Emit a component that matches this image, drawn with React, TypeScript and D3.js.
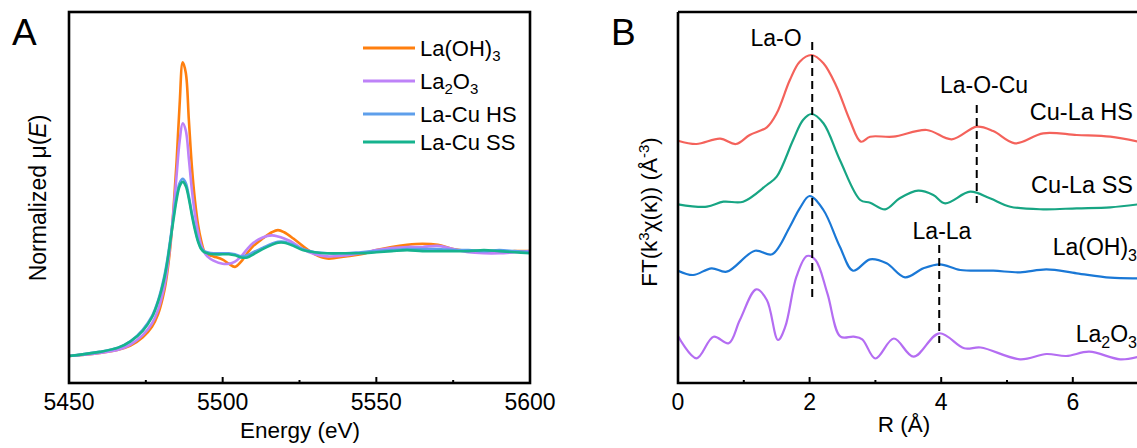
import React from "react";
import * as d3 from "d3";

// ---------- Panel A: XANES (normalized mu(E)) ----------
const energy = [5450, 5460, 5466, 5470, 5474, 5477, 5479, 5481, 5482, 5483, 5484, 5485, 5486, 5487, 5488, 5489, 5490, 5491, 5492, 5493, 5494, 5495, 5497, 5500, 5502, 5504, 5506, 5508, 5510, 5513, 5516, 5518, 5520, 5523, 5526, 5530, 5534, 5540, 5545, 5550, 5555, 5560, 5565, 5570, 5575, 5580, 5585, 5590, 5595, 5600];
const muLaOH3 = [0.00, 0.03, 0.06, 0.10, 0.18, 0.28, 0.40, 0.62, 0.80, 1.05, 1.40, 1.85, 2.40, 2.80, 2.70, 2.25, 1.80, 1.48, 1.25, 1.10, 1.00, 0.97, 0.95, 0.92, 0.88, 0.85, 0.90, 0.98, 1.05, 1.12, 1.18, 1.20, 1.18, 1.12, 1.05, 0.97, 0.93, 0.95, 0.97, 1.01, 1.04, 1.06, 1.07, 1.06, 1.02, 1.00, 0.99, 0.99, 1.00, 1.00];
const muLa2O3 = [0.00, 0.03, 0.06, 0.11, 0.20, 0.31, 0.44, 0.66, 0.84, 1.08, 1.38, 1.72, 2.05, 2.22, 2.15, 1.88, 1.58, 1.35, 1.18, 1.06, 0.99, 0.95, 0.91, 0.88, 0.88, 0.90, 0.95, 1.02, 1.08, 1.13, 1.15, 1.14, 1.12, 1.08, 1.02, 0.97, 0.95, 0.96, 0.98, 1.01, 1.03, 1.04, 1.04, 1.05, 1.02, 0.99, 0.98, 0.98, 0.99, 1.00];
const muLaCuHS = [0.00, 0.04, 0.08, 0.14, 0.25, 0.38, 0.53, 0.76, 0.92, 1.12, 1.33, 1.52, 1.65, 1.69, 1.65, 1.52, 1.36, 1.22, 1.10, 1.03, 1.00, 0.99, 0.98, 0.98, 0.98, 0.97, 0.95, 0.96, 0.99, 1.03, 1.07, 1.09, 1.09, 1.06, 1.02, 0.99, 0.98, 0.98, 0.99, 1.00, 1.01, 1.02, 1.02, 1.02, 1.01, 1.01, 1.00, 1.01, 1.00, 0.99];
const muLaCuSS = [0.00, 0.04, 0.08, 0.14, 0.24, 0.37, 0.52, 0.74, 0.90, 1.10, 1.30, 1.49, 1.62, 1.66, 1.62, 1.50, 1.34, 1.20, 1.09, 1.02, 0.99, 0.98, 0.97, 0.97, 0.97, 0.96, 0.94, 0.94, 0.97, 1.02, 1.06, 1.08, 1.08, 1.05, 1.01, 0.99, 0.98, 0.98, 0.98, 0.99, 1.00, 1.01, 1.00, 1.00, 1.00, 1.00, 1.01, 1.00, 0.99, 0.98];
const seriesA = [
  { name: "La(OH)3", values: muLaOH3, color: "#FF7F0E" },
  { name: "La2O3", values: muLa2O3, color: "#BE82F8" },
  { name: "La-Cu HS", values: muLaCuHS, color: "#5E9FEB" },
  { name: "La-Cu SS", values: muLaCuSS, color: "#16B38E" },
];
const ticksA = [5450, 5500, 5550, 5600];
const minorTicksA = [5475, 5525, 5575];

// ---------- Panel B: FT-EXAFS (stacked, arbitrary units) ----------
const rHS = [0, 0.28, 0.64, 0.88, 1.09, 1.35, 1.50, 1.70, 1.85, 2.03, 2.21, 2.41, 2.61, 2.78, 2.92, 3.27, 3.78, 4.16, 4.54, 4.79, 5.12, 5.55, 6.06, 6.57, 7.0];
const ftHS = [242.3, 239, 244.3, 239, 248, 255.7, 269.7, 303, 321.3, 328, 319.7, 296.3, 263, 241.3, 246.3, 246.3, 253, 243.7, 256.3, 252, 239.7, 249.7, 248, 246.3, 241.3];
const rSS = [0, 0.44, 0.69, 0.99, 1.35, 1.50, 1.75, 1.90, 2.03, 2.21, 2.46, 2.77, 2.92, 3.15, 3.37, 3.65, 3.88, 4.06, 4.44, 4.74, 5.05, 5.55, 6.06, 6.57, 7.0];
const ftSS = [178.7, 176.3, 181.3, 181.3, 198, 206.3, 243, 263, 269, 259.7, 223, 183, 180.3, 173.7, 184.7, 192.3, 188, 179.7, 191.3, 184.7, 176.3, 173.7, 174.7, 175.7, 178.7];
const rLaOH = [0, 0.23, 0.51, 0.74, 1.17, 1.43, 1.70, 1.85, 2.0, 2.21, 2.46, 2.66, 2.92, 3.17, 3.45, 3.73, 3.98, 4.29, 4.79, 5.20, 5.60, 6.06, 6.57, 7.0];
const ftLaOH = [112.3, 108, 114.7, 111.3, 132.3, 128.7, 156.3, 174.7, 187, 173, 136.3, 112.3, 123.7, 119.7, 105.7, 114.7, 118.7, 113, 112.3, 110.7, 113.7, 109.7, 105.3, 104.7];
const rLa2O3 = [0, 0.28, 0.54, 0.77, 0.94, 1.19, 1.35, 1.52, 1.63, 1.80, 1.96, 2.09, 2.27, 2.47, 2.67, 2.80, 3.0, 3.28, 3.58, 3.97, 4.35, 4.60, 5.20, 5.60, 5.90, 6.25, 6.72, 7.0];
const ftLa2O3 = [47, 24.7, 46.3, 39.7, 63, 93.7, 83, 43, 56.3, 106.3, 127, 123, 89.7, 46.3, 46.3, 43.7, 24.5, 44.5, 26.3, 49.7, 34.7, 35.5, 23.7, 29, 27, 31.3, 23.7, 26.3];
const seriesB = [
  { name: "Cu-La HS", r: rHS, values: ftHS, color: "#F4625B" },
  { name: "Cu-La SS", r: rSS, values: ftSS, color: "#17A583" },
  { name: "La(OH)3", r: rLaOH, values: ftLaOH, color: "#1A78D6" },
  { name: "La2O3", r: rLa2O3, values: ftLa2O3, color: "#B46DF2" },
];
const ticksB = [0, 2, 4, 6];
const minorTicksB = [1, 3, 5];
const dashLines = [
  { r: 2.04, top: 341, bottom: 83, label: "La-O" },
  { r: 4.54, top: 278, bottom: 180, label: "La-O-Cu" },
  { r: 3.97, top: 138, bottom: 40, label: "La-La" },
];

const FONT = "'Liberation Sans', Arial, Helvetica, sans-serif";

export default function App() {
  // Panel A scales
  const ax = d3.scaleLinear().domain([5450, 5600]).range([69, 530]);
  const ay = d3.scaleLinear().domain([-0.257, 3.28]).range([383, 12]);
  const lineA = d3
    .line<[number, number]>()
    .x((d) => ax(d[0]))
    .y((d) => ay(d[1]))
    .curve(d3.curveCatmullRom.alpha(0.5));

  // Panel B scales
  const bx = d3.scaleLinear().domain([0, 7]).range([678, 678 + 7 * 65.8]);
  const by = d3.scaleLinear().domain([0, 371]).range([383, 12]);
  const lineB = d3
    .line<[number, number]>()
    .x((d) => bx(d[0]))
    .y((d) => by(d[1]))
    .curve(d3.curveCatmullRom.alpha(0.5));

  const legendY = [48, 81, 114, 142];

  const legendLabel = (name: string, x: number, y: number) => {
    if (name === "La(OH)3")
      return (
        <text x={x} y={y} fontSize={22}>
          La(OH)<tspan dy={5} fontSize={15}>3</tspan>
        </text>
      );
    if (name === "La2O3")
      return (
        <text x={x} y={y} fontSize={22}>
          La<tspan dy={5} fontSize={15}>2</tspan>
          <tspan dy={-5}>O</tspan>
          <tspan dy={5} fontSize={15}>3</tspan>
        </text>
      );
    return (
      <text x={x} y={y} fontSize={22}>
        {name}
      </text>
    );
  };

  return (
    <svg
      width={1137}
      height={448}
      style={{ position: "absolute", left: 0, top: 0, background: "#fff" }}
      fontFamily={FONT}
    >
      <rect x={0} y={0} width={1137} height={448} fill="#fff" />
      {/* ===== Panel A ===== */}
      <text x={12} y={45} fontSize={37}>A</text>
      <g>
        {seriesA.map((s) => (
          <path
            key={s.name}
            d={lineA(energy.map((e, i) => [e, s.values[i]] as [number, number])) || ""}
            fill="none"
            stroke={s.color}
            strokeWidth={2.6}
            strokeLinejoin="round"
          />
        ))}
      </g>
      <rect x={69} y={12} width={461} height={371} fill="none" stroke="#000" strokeWidth={2.6} />
      {ticksA.map((t) => (
        <g key={t}>
          <line x1={ax(t)} x2={ax(t)} y1={383} y2={377} stroke="#000" strokeWidth={2} />
          <text x={ax(t)} y={410} fontSize={23} textAnchor="middle">{t}</text>
        </g>
      ))}
      {minorTicksA.map((t) => (
        <line key={t} x1={ax(t)} x2={ax(t)} y1={383} y2={380} stroke="#000" strokeWidth={2} />
      ))}
      <text x={300} y={438} fontSize={22.5} textAnchor="middle">Energy (eV)</text>
      <text transform="translate(46,198) rotate(-90)" fontSize={23} textAnchor="middle">
        Normalized μ(<tspan fontStyle="italic">E</tspan>)
      </text>
      {seriesA.map((s, i) => (
        <g key={s.name}>
          <line x1={363} x2={415} y1={legendY[i]} y2={legendY[i]} stroke={s.color} strokeWidth={3} />
          {legendLabel(s.name, 420, legendY[i] + 8)}
        </g>
      ))}

      {/* ===== Panel B ===== */}
      <text x={611} y={45} fontSize={37}>B</text>
      {seriesB.map((s) => (
        <path
          key={s.name}
          d={lineB(s.r.map((r, i) => [r, s.values[i]] as [number, number])) || ""}
          fill="none"
          stroke={s.color}
          strokeWidth={2.2}
          strokeLinejoin="round"
        />
      ))}
      {dashLines.map((d) => (
        <line
          key={d.label}
          x1={bx(d.r)}
          x2={bx(d.r)}
          y1={by(d.top)}
          y2={by(d.bottom)}
          stroke="#000"
          strokeWidth={2}
          strokeDasharray="8,5"
        />
      ))}
      <text x={776} y={46} fontSize={23} textAnchor="middle">La-O</text>
      <text x={984} y={93} fontSize={23} textAnchor="middle">La-O-Cu</text>
      <text x={942} y={239} fontSize={23} textAnchor="middle">La-La</text>
      <text x={1133} y={120} fontSize={23.5} textAnchor="end">Cu-La HS</text>
      <text x={1133} y={193} fontSize={23.5} textAnchor="end">Cu-La SS</text>
      <text x={1137} y={255} fontSize={23} textAnchor="end">
        La(OH)<tspan dy={6} fontSize={16}>3</tspan>
      </text>
      <text x={1137} y={342} fontSize={23} textAnchor="end">
        La<tspan dy={6} fontSize={16}>2</tspan>
        <tspan dy={-6}>O</tspan>
        <tspan dy={6} fontSize={16}>3</tspan>
      </text>
      <path d="M678,12 H1140 M678,12 V383 H1140" fill="none" stroke="#000" strokeWidth={2.6} />
      {ticksB.map((t) => (
        <g key={t}>
          <line x1={bx(t)} x2={bx(t)} y1={383} y2={377} stroke="#000" strokeWidth={2} />
          <text x={bx(t)} y={410} fontSize={23} textAnchor="middle">{t}</text>
        </g>
      ))}
      {minorTicksB.map((t) => (
        <line key={t} x1={bx(t)} x2={bx(t)} y1={383} y2={380} stroke="#000" strokeWidth={2} />
      ))}
      <text x={904} y={432} fontSize={22.5} textAnchor="middle">R (Å)</text>
      <text transform="translate(657,212) rotate(-90)" fontSize={22.5} textAnchor="middle">
        FT(k<tspan dy={-8} fontSize={15}>3</tspan>
        <tspan dy={8}>χ(κ)) (Å</tspan>
        <tspan dy={-8} fontSize={15}>-3</tspan>
        <tspan dy={8}>)</tspan>
      </text>
    </svg>
  );
}
